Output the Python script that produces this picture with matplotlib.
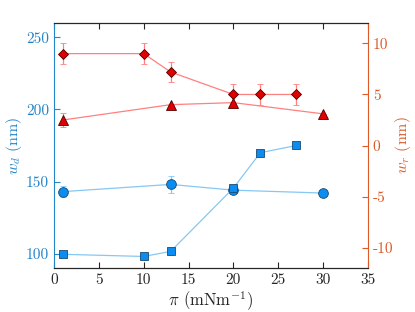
import numpy as np
import matplotlib
matplotlib.use('Agg')
import matplotlib.pyplot as plt

plt.rcParams['font.family'] = 'serif'
plt.rcParams['font.serif'] = ['cmr10']
plt.rcParams['mathtext.fontset'] = 'cm'
plt.rcParams['axes.unicode_minus'] = False
plt.rcParams['axes.formatter.use_mathtext'] = False

# blue, left axis
pi_circ = [1, 13, 20, 30]
wd_circ = [143, 148, 144, 142]
wd_circ_err = [4, 6, 2, 0]
pi_sq = [1, 10, 13, 20, 23, 27]
wd_sq = [99.5, 98, 101.5, 145.5, 170, 175]
wd_sq_err = [0, 0, 0, 0, 2, 2]

# red, right axis
pi_dia = [1, 10, 13, 20, 23, 27]
wr_dia = [9, 9, 7.2, 5, 5, 5]
wr_dia_err = [1, 1, 1, 1, 1, 1]
pi_tri = [1, 13, 20, 30]
wr_tri = [2.5, 4.0, 4.2, 3.1]
wr_tri_err = [0.7, 0, 0, 0]

c_left = '#2484c8'
c_right = '#dd5a28'
c_bfill = '#0a8cf0'
c_bline = '#86c8f4'
c_rfill = '#e00000'
c_rline = '#ff8080'

fig = plt.figure(figsize=(4.15, 3.12), dpi=100)
ax = fig.add_axes([54/415, 1-268/312, 314/415, 245/312])
ax2 = ax.twinx()

ax.errorbar(pi_circ, wd_circ, yerr=wd_circ_err, color=c_bline, lw=0.9, marker='o', ms=7,
            mfc=c_bfill, mec='#1a4a70', mew=0.6, capsize=2, elinewidth=0.9)
ax.errorbar(pi_sq, wd_sq, yerr=wd_sq_err, color=c_bline, lw=0.9, marker='s', ms=5.5,
            mfc=c_bfill, mec='#1a4a70', mew=0.6, capsize=2, elinewidth=0.9)
ax2.errorbar(pi_dia, wr_dia, yerr=wr_dia_err, color=c_rline, lw=0.9, marker='D', ms=5.5,
             mfc=c_rfill, mec='#500000', mew=0.6, capsize=2, elinewidth=0.9)
ax2.errorbar(pi_tri, wr_tri, yerr=wr_tri_err, color=c_rline, lw=0.9, marker='^', ms=7,
             mfc=c_rfill, mec='#500000', mew=0.6, capsize=2, elinewidth=0.9)

ax.set_xlim(0, 35)
ax.set_ylim(90, 260)
ax2.set_ylim(-12, 12)
ax.set_xticks(np.arange(0, 36, 5))
ax.set_yticks([100, 150, 200, 250])
ax2.set_yticks([-10, -5, 0, 5, 10])

ax.tick_params(axis='x', direction='in', top=True, colors='#262626', labelsize=11, length=4)
ax.tick_params(axis='y', direction='in', colors=c_left, labelsize=11, length=4)
ax2.tick_params(axis='y', direction='in', colors=c_right, labelsize=11, length=4)

ax.spines['left'].set_color(c_left)
ax.spines['right'].set_visible(False)
ax2.spines['left'].set_visible(False)
ax2.spines['right'].set_color(c_right)
ax2.spines['top'].set_color('#262626')
ax2.spines['bottom'].set_color('#262626')

ax.set_xlabel(r'$\pi$ (mNm$^{-1}$)', fontsize=12, color='#262626', labelpad=2)
ax.set_ylabel(r'$w_d$ (nm)', fontsize=11.5, color=c_left, labelpad=1)
ax2.set_ylabel(r'$w_r$ (nm)', fontsize=11.5, color=c_right, labelpad=0)

fig.savefig('out.png', dpi=100)
